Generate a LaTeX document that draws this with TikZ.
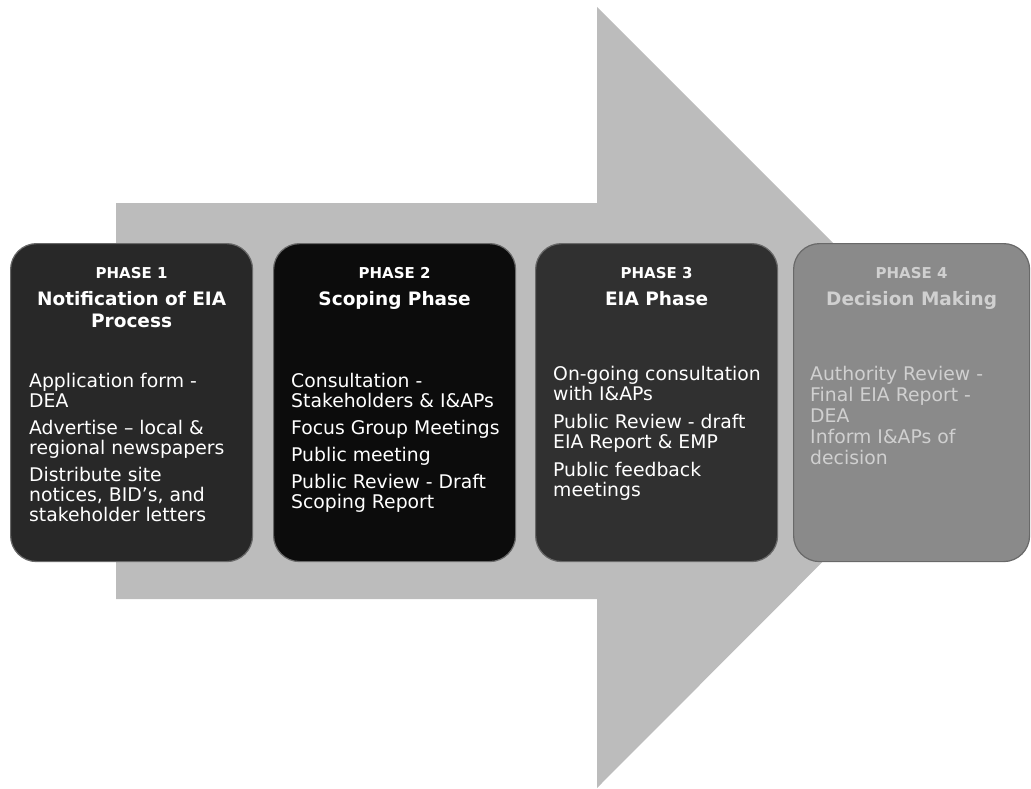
\documentclass[tikz,border=0pt]{standalone}
\usepackage{fontspec}
\setmainfont{DejaVu Sans}
\usepackage{tikz}
\usetikzlibrary{positioning}
\definecolor{arrowgrey}{RGB}{188,188,188}
\definecolor{pone}{RGB}{40,40,40}
\definecolor{ptwo}{RGB}{12,12,12}
\definecolor{pthree}{RGB}{48,48,48}
\definecolor{pfour}{RGB}{138,138,138}
\definecolor{pfourtext}{RGB}{208,208,208}
\definecolor{rim}{RGB}{105,105,105}
\tikzset{%
	phase/.style = {name = #1, rectangle, rounded corners = 26pt, draw = rim, line width = 1.2pt, minimum width = 242pt, minimum height = 318pt, anchor = north west, inner sep = 0pt},
	head/.style = {anchor = north, align = center, text = white, font = \bfseries\fontsize{18.5}{22}\selectfont, inner sep = 0pt},
	items/.style = {anchor = north west, align = left, text = white, font = \fontsize{18.8}{20}\selectfont, inner sep = 0pt}
}
\newcommand{\phasenum}[1]{{\fontsize{15}{22}\selectfont PHASE #1}}

\begin{document}
\begin{tikzpicture}[x=1pt, y=-1pt]
	\useasboundingbox (0,0) rectangle (1031,789);
	% big arrow behind the phases
	\fill [arrowgrey] (116,203) -- (597,203) -- (597,7) -- (987,397) -- (597,788) -- (597,599) -- (116,599) -- cycle;
	\node [phase = {P1}, fill = pone] at (10,243) {};
	\node [phase = {P2}, fill = ptwo] at (273,243) {};
	\node [phase = {P3}, fill = pthree] at (535,243) {};
	\node [phase = {P4}, fill = pfour, minimum width = 236pt] at (793,243) {};
	\node [head, name = T1] at ([yshift=-24pt]P1.north) {\phasenum{1}\\[5pt] Notification of EIA\\ Process};
	\node [head, name = T2] at ([yshift=-24pt]P2.north) {\phasenum{2}\\[5pt] Scoping Phase};
	\node [head, name = T3] at ([yshift=-24pt]P3.north) {\phasenum{3}\\[5pt] EIA Phase};
	\node [head, name = T4, text = pfourtext] at ([yshift=-24pt]P4.north) {\phasenum{4}\\[5pt] Decision Making};
	\node [items, name = L1] at ([xshift=19pt, yshift=-130pt]P1.north west) {Application form -\\ DEA\\[7pt] Advertise -- local \&\\ regional newspapers\\[7pt] Distribute site\\ notices, BID's, and\\ stakeholder letters};
	\node [items, name = L2] at ([xshift=18pt, yshift=-130pt]P2.north west) {Consultation -\\ Stakeholders \& I\&APs\\[7pt] Focus Group Meetings\\[7pt] Public meeting\\[7pt] Public Review - Draft\\ Scoping Report};
	\node [items, name = L3] at ([xshift=18pt, yshift=-123pt]P3.north west) {On-going consultation\\ with I\&APs\\[8pt] Public Review - draft\\ EIA Report \& EMP\\[8pt] Public feedback\\ meetings};
	\node [items, name = L4, text = pfourtext] at ([xshift=17pt, yshift=-123pt]P4.north west) {Authority Review -\\[1pt] Final EIA Report -\\[1pt] DEA\\[1pt] Inform I\&APs of\\[1pt] decision};
\end{tikzpicture}
\end{document}
